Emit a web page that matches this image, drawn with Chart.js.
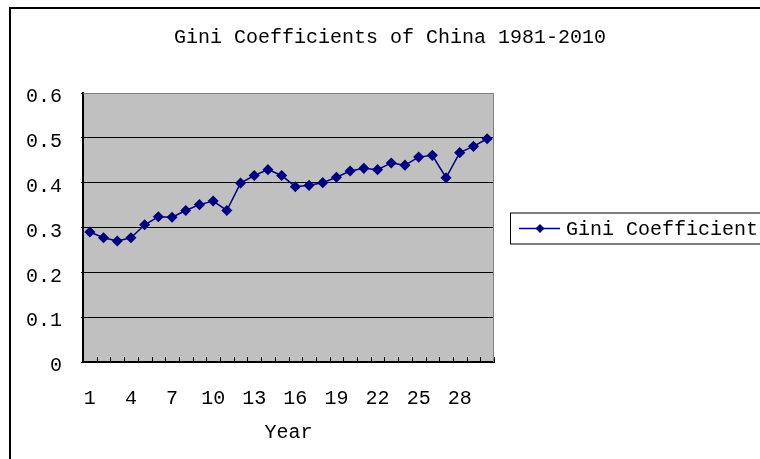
<!DOCTYPE html>
<html>
<head>
<meta charset="utf-8">
<script src="https://cdn.jsdelivr.net/npm/chart.js@4.4.1/dist/chart.umd.min.js"></script>
<style>
  html, body { margin: 0; padding: 0; background: #fff; }
  #wrap { width: 760px; height: 459px; }
</style>
</head>
<body>
<div id="wrap"><canvas id="giniChart" width="760" height="459"></canvas></div>
<script>
// Gini coefficients of China, 1981-2010 (year index 1..30)
const years = [1, 2, 3, 4, 5, 6, 7, 8, 9, 10, 11, 12, 13, 14, 15,
    16, 17, 18, 19, 20, 21, 22, 23, 24, 25, 26, 27, 28, 29, 30];
const giniValues = [0.29, 0.277, 0.27, 0.277, 0.306, 0.324, 0.323, 0.338, 0.351, 0.359,
    0.338, 0.399, 0.416, 0.429, 0.416, 0.391, 0.394, 0.40, 0.412, 0.426,
    0.432, 0.429, 0.444, 0.439, 0.457, 0.461, 0.411, 0.467, 0.481, 0.498];
const yTicks = [0, 0.1, 0.2, 0.3, 0.4, 0.5, 0.6];

const FONT = '"Liberation Mono", "DejaVu Sans Mono", monospace';
const NAVY = '#000080';

// gray plot background + outer frame
const backdrop = {
    id: 'backdrop',
    beforeDraw(chart) {
        const { ctx, chartArea: a } = chart;
        ctx.save();
        ctx.fillStyle = '#c0c0c0';
        ctx.fillRect(a.left, a.top, a.right - a.left, a.bottom - a.top);
        ctx.strokeStyle = '#000';
        ctx.lineWidth = 2;
        ctx.strokeRect(10, 8, 800, 500);
        ctx.restore();
    },
    beforeDatasetsDraw(chart) {
        const { ctx, chartArea: a, scales } = chart;
        ctx.save();
        ctx.strokeStyle = '#808080';
        ctx.lineWidth = 1;
        ctx.beginPath();
        ctx.moveTo(a.left, a.top + 0.5);
        ctx.lineTo(a.right - 0.5, a.top + 0.5);
        ctx.lineTo(a.right - 0.5, a.bottom);
        ctx.stroke();
        // small inward ticks on the category boundaries
        ctx.strokeStyle = '#000';
        ctx.beginPath();
        for (let i = 0; i <= years.length; i++) {
            const px = Math.round(scales.x.getPixelForValue(i - 0.5)) + 0.5;
            ctx.moveTo(px, a.bottom);
            ctx.lineTo(px, a.bottom - 5);
        }
        ctx.stroke();
        ctx.restore();
    }
};

// legend box to the right of the plot
const sideLegend = {
    id: 'sideLegend',
    afterDraw(chart) {
        const { ctx, chartArea: a } = chart;
        const x0 = a.right + 16;
        const yc = Math.round((a.top + a.bottom) / 2) + 0.5;
        ctx.save();
        ctx.strokeStyle = '#000';
        ctx.lineWidth = 1;
        ctx.strokeRect(x0 + 0.5, yc - 15.5, 400, 31);
        ctx.strokeStyle = NAVY;
        ctx.lineWidth = 1.5;
        ctx.beginPath();
        ctx.moveTo(x0 + 9, yc);
        ctx.lineTo(x0 + 50, yc);
        ctx.stroke();
        ctx.fillStyle = NAVY;
        ctx.beginPath();
        ctx.moveTo(x0 + 30, yc - 4.5);
        ctx.lineTo(x0 + 34.5, yc);
        ctx.lineTo(x0 + 30, yc + 4.5);
        ctx.lineTo(x0 + 25.5, yc);
        ctx.closePath();
        ctx.fill();
        ctx.fillStyle = '#000';
        ctx.font = '20px ' + FONT;
        ctx.textBaseline = 'middle';
        ctx.textAlign = 'left';
        ctx.fillText(chart.data.datasets[0].label, x0 + 56, yc + 1);
        ctx.restore();
    }
};

new Chart(document.getElementById('giniChart'), {
    type: 'line',
    data: {
        labels: years,
        datasets: [{
            label: 'Gini Coefficient',
            data: giniValues,
            borderColor: NAVY,
            backgroundColor: NAVY,
            borderWidth: 1.5,
            pointStyle: 'rectRot',
            pointRadius: 4.5,
            pointHoverRadius: 4.5,
            tension: 0
        }]
    },
    options: {
        responsive: false,
        animation: false,
        events: [],
        layout: { padding: { left: 20, right: 0, top: 0, bottom: 0 } },
        plugins: {
            legend: { display: false },
            tooltip: { enabled: false },
            title: {
                display: true,
                text: 'Gini Coefficients of China 1981-2010',
                color: '#000',
                font: { family: FONT, size: 20, weight: 'normal' },
                padding: { top: 26, bottom: 43 }
            }
        },
        scales: {
            x: {
                offset: true,
                grid: { display: false },
                border: { display: true, color: '#000', width: 2 },
                ticks: {
                    color: '#000',
                    font: { family: FONT, size: 20 },
                    autoSkip: false,
                    maxRotation: 0,
                    padding: 17,
                    callback: (v, i) => (i % 3 === 0 ? years[i] : '')
                },
                title: {
                    display: true,
                    text: 'Year',
                    color: '#000',
                    font: { family: FONT, size: 20 },
                    padding: { top: 0, bottom: 14 }
                },
                afterFit: (s) => { s.height = 97; }
            },
            y: {
                min: 0,
                max: 0.6,
                afterBuildTicks: (s) => { s.ticks = yTicks.map(v => ({ value: v })); },
                grid: {
                    color: (c) => (c.tick && c.tick.value === 0.6 ? '#808080' : '#000'),
                    lineWidth: 1,
                    drawTicks: true,
                    tickLength: 2,
                    tickColor: '#000'
                },
                border: { display: true, color: '#000', width: 2 },
                ticks: {
                    color: '#000',
                    font: { family: FONT, size: 20 },
                    padding: 19,
                    labelOffset: 4,
                    callback: (v) => String(Math.round(v * 10) / 10)
                },
                afterFit: (s) => { s.width = 63; }
            },
            // empty right-hand axis that keeps room for the legend box
            spacer: {
                type: 'linear',
                position: 'right',
                display: true,
                grid: { display: false, drawTicks: false },
                border: { display: false },
                ticks: { display: false },
                afterFit: (s) => { s.width = 266; }
            }
        }
    },
    plugins: [backdrop, sideLegend]
});
</script>
</body>
</html>
